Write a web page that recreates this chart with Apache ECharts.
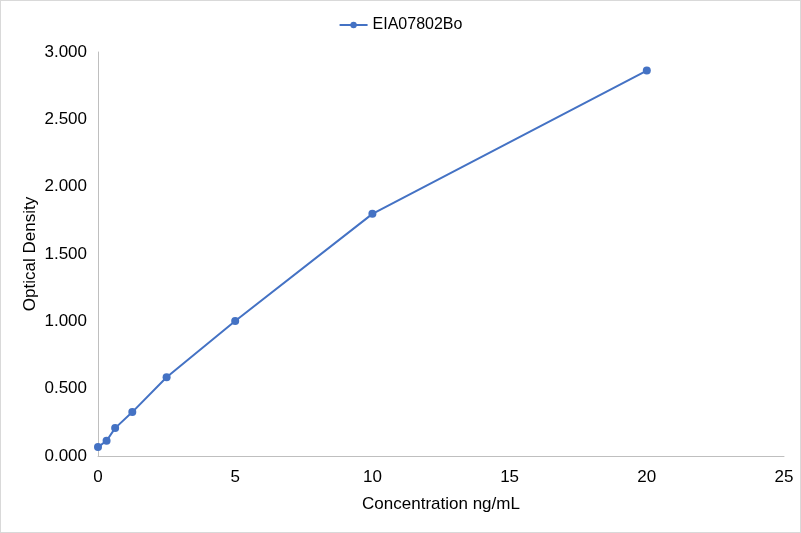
<!DOCTYPE html>
<html>
<head>
<meta charset="utf-8">
<script src="https://cdn.jsdelivr.net/npm/echarts@6/dist/echarts.min.js"></script>
<style>
  html, body { margin: 0; padding: 0; background: #fff; }
  #chart { width: 799px; height: 531px; border: 1px solid #d9d9d9; }
</style>
</head>
<body>
<div id="chart"></div>
<script>
const seriesName = "EIA07802Bo";
const concentrations = [0, 0.3125, 0.625, 1.25, 2.5, 5, 10, 20];
const densities = [0.066, 0.113, 0.207, 0.326, 0.585, 1.002, 1.798, 2.862];

const chart = echarts.init(document.getElementById("chart"));
const font = "Liberation Sans, Arial, sans-serif";

chart.setOption({
    animation: false,
    legend: {
        top: 11,
        left: "center",
        itemWidth: 28,
        itemHeight: 8,
        itemGap: 6,
        textStyle: { fontFamily: font, fontSize: 16, color: "#000" },
        data: [seriesName]
    },
    grid: { left: 97, right: 16, top: 51, bottom: 76 },
    xAxis: {
        type: "value",
        min: 0,
        max: 25,
        interval: 5,
        name: "Concentration ng/mL",
        nameLocation: "middle",
        nameGap: 40,
        nameMoveOverlap: false,
        nameTextStyle: { fontFamily: font, fontSize: 17, color: "#000" },
        axisLine: { show: true, lineStyle: { color: "#bfbfbf" } },
        axisTick: { show: false },
        splitLine: { show: false },
        axisLabel: { fontFamily: font, fontSize: 17, color: "#000", margin: 13 }
    },
    yAxis: {
        type: "value",
        min: 0,
        max: 3,
        interval: 0.5,
        name: "Optical Density",
        nameLocation: "middle",
        nameGap: 59,
        nameMoveOverlap: false,
        nameTextStyle: { fontFamily: font, fontSize: 17, color: "#000" },
        axisLine: { show: true, lineStyle: { color: "#bfbfbf" } },
        axisTick: { show: false },
        splitLine: { show: false },
        axisLabel: {
            fontFamily: font, fontSize: 17, color: "#000", margin: 11,
            formatter: v => v.toFixed(3)
        }
    },
    series: [{
        name: seriesName,
        type: "line",
        data: concentrations.map((c, i) => [c, densities[i]]),
        symbol: "circle",
        symbolSize: 8,
        lineStyle: { color: "#4472c4", width: 2 },
        itemStyle: { color: "#4472c4" }
    }]
});
</script>
</body>
</html>
